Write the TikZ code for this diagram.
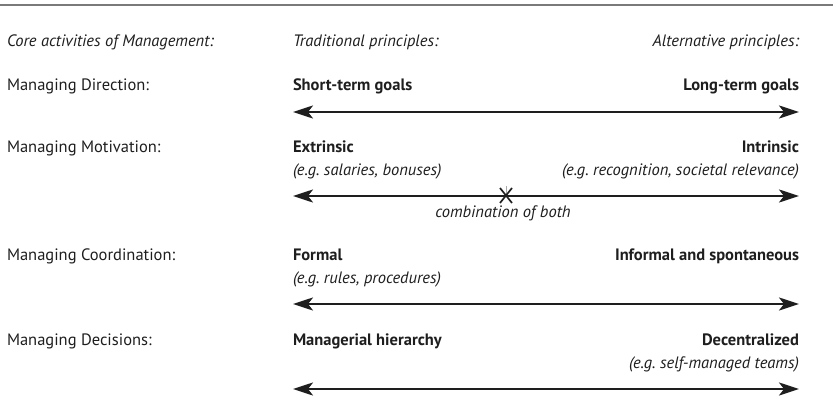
\documentclass[tikz,border=0pt]{standalone}
\usepackage{fontspec}
\setmainfont{PT Sans}
\usetikzlibrary{arrows.meta}
\definecolor{inkdark}{HTML}{1E1E1E}
\definecolor{rulegray}{HTML}{7A7A7A}
\definecolor{tickgray}{HTML}{A8A8A8}
\begin{document}
\begin{tikzpicture}[x=1pt,y=-1pt,
  lbl/.style={inner sep=0pt,outer sep=0pt,text=inkdark,font=\fontsize{16.5}{19}\selectfont},
  biarrow/.style={draw=inkdark,line width=2.4pt,
    {Stealth[length=20pt,width=13pt,inset=5pt]}-{Stealth[length=20pt,width=13pt,inset=5pt]}},
  cross/.style={draw=inkdark,line width=1.7pt}]
\useasboundingbox (0,0) rectangle (833,404);

% top rule
\coordinate (ruleL) at (0,5);
\coordinate (ruleR) at (833,5);
\draw[rulegray,line width=1.5pt] (ruleL) -- (ruleR);

% column headings
\node[lbl,anchor=mid west] (hcore) at (7,44) {\itshape Core activities of Management:};
\node[lbl,anchor=mid west] (htrad) at (293,44) {\itshape Traditional principles:};
\node[lbl,anchor=mid east] (halt)  at (799,44) {\itshape Alternative principles:};

% Direction
\node[lbl,anchor=mid west] (rdir) at (7,88) {Managing Direction:};
\node[lbl,anchor=mid west] (dirL) at (293,88) {\bfseries Short-term goals};
\node[lbl,anchor=mid east] (dirR) at (799,88) {\bfseries Long-term goals};
\coordinate (a1L) at (293,112);
\coordinate (a1R) at (799,112);
\draw[biarrow] (a1L) -- (a1R);

% Motivation
\node[lbl,anchor=mid west] (rmot) at (7,150) {Managing Motivation:};
\node[lbl,anchor=mid west] (motL) at (293,150) {\bfseries Extrinsic};
\node[lbl,anchor=mid west] (motLx) at (293,173) {\itshape (e.g.\ salaries, bonuses)};
\node[lbl,anchor=mid east] (motR) at (799,150) {\bfseries Intrinsic};
\node[lbl,anchor=mid east] (motRx) at (799,173) {\itshape (e.g.\ recognition, societal relevance)};
\coordinate (a2L) at (293,196);
\coordinate (a2R) at (799,196);
\draw[biarrow] (a2L) -- (a2R);
% mark for the mixed position on the scale
\coordinate (xm) at (506,196);
\draw[tickgray,line width=0.8pt] (xm) -- ([yshift=10]xm);
\draw[cross] ([shift={(-6,-8)}]xm) -- ([shift={(6,7)}]xm);
\draw[cross] ([shift={(6,-8)}]xm) -- ([shift={(-6,7)}]xm);
\node[lbl,anchor=mid] (comb) at (503,215) {\itshape combination of both};

% Coordination
\node[lbl,anchor=mid west] (rcoo) at (7,258) {Managing Coordination:};
\node[lbl,anchor=mid west] (cooL) at (293,258) {\bfseries Formal};
\node[lbl,anchor=mid west] (cooLx) at (293,281) {\itshape (e.g.\ rules, procedures)};
\node[lbl,anchor=mid east] (cooR) at (799,258) {\bfseries Informal and spontaneous};
\coordinate (a3L) at (293,304);
\coordinate (a3R) at (799,304);
\draw[biarrow] (a3L) -- (a3R);

% Decisions
\node[lbl,anchor=mid west] (rdec) at (7,343) {Managing Decisions:};
\node[lbl,anchor=mid west] (decL) at (293,343) {\bfseries Managerial hierarchy};
\node[lbl,anchor=mid east] (decR) at (799,343) {\bfseries Decentralized};
\node[lbl,anchor=mid east] (decRx) at (799,366) {\itshape (e.g.\ self-managed teams)};
\coordinate (a4L) at (293,389);
\coordinate (a4R) at (799,389);
\draw[biarrow] (a4L) -- (a4R);
\end{tikzpicture}
\end{document}
